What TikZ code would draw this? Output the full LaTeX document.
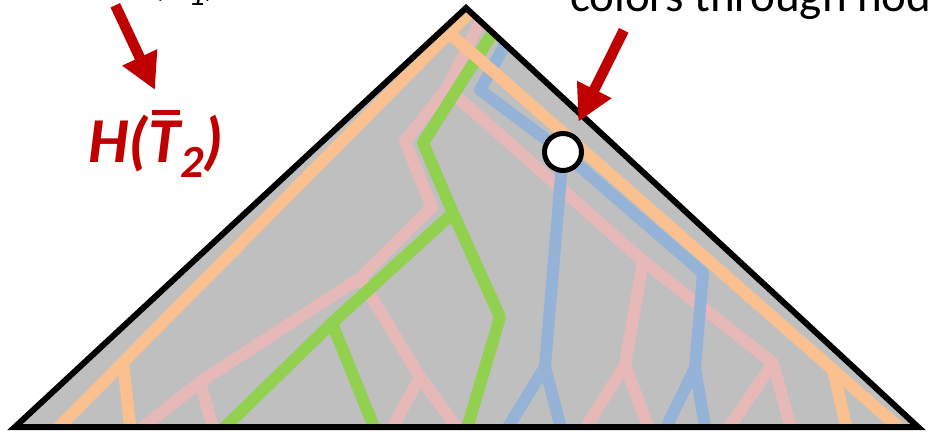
\documentclass[tikz,border=0pt]{standalone}
\usepackage{fontspec}
\setmainfont{Carlito}
\usetikzlibrary{arrows.meta}
\definecolor{triGray}{HTML}{BFBFBF}
\definecolor{tOrange}{HTML}{FAC090}
\definecolor{tPink}{HTML}{E6B9B8}
\definecolor{tGreen}{HTML}{92D050}
\definecolor{tBlue}{HTML}{95B3D7}
\definecolor{tRed}{HTML}{C00000}
\newcommand{\HTlabel}[1]{H(\makebox[0pt][l]{\hspace{0.06em}\raisebox{0.75em}{\rule{0.44em}{0.078em}}}T\raisebox{-0.22em}{\scalebox{0.72}{#1}})}
\begin{document}
\begin{tikzpicture}[x=1pt,y=-1pt,
  treeline/.style={line width=12pt, line cap=round, line join=round},
  orangeline/.style={treeline, draw=tOrange},
  pinkline/.style={treeline, draw=tPink},
  greenline/.style={treeline, draw=tGreen},
  blueline/.style={treeline, draw=tBlue},
  redarrow/.style={draw=tRed, line width=10.5pt, -{Triangle[length=36pt,width=36pt]}},
  lbl/.style={inner sep=0pt, outer sep=0pt, anchor=base west}]
\useasboundingbox (0,0) rectangle (932,433);
\clip (0,0) rectangle (932,433);
\fill[white] (0,0) rectangle (932,433);
% triangle corners
\coordinate (A) at (15,427);
\coordinate (B) at (466,8);
\coordinate (C) at (918,427);
\fill[triGray] (A) -- (B) -- (C) -- cycle;
\begin{scope}
\clip (A) -- (B) -- (C) -- cycle;
% pink tree
\coordinate (p0) at (484,14);
\coordinate (p1) at (447,88);
\coordinate (p2) at (405,141);
\coordinate (p3) at (432,207);
\coordinate (p4) at (360,278);
\coordinate (p5) at (200,382);
\coordinate (p6) at (137,432);
\coordinate (p7) at (214,432);
\coordinate (pq) at (420,377);
\coordinate (pq1) at (390,432);
\coordinate (pq2) at (460,432);
\coordinate (pr) at (643,261);
\coordinate (ps) at (773,363);
\coordinate (pt) at (625,365);
\coordinate (pt1) at (583,432);
\coordinate (pt2) at (650,432);
\coordinate (ps1) at (726,432);
\coordinate (ps2) at (792,432);
\draw[pinkline] (p0) -- (p1) -- (p2) -- (p3) -- (p4) -- (p5) -- (p6);
\draw[pinkline] (p5) -- (p7);
\draw[pinkline] (p4) -- (pq) -- (pq1);
\draw[pinkline] (pq) -- (pq2);
\draw[pinkline] (p1) -- (pr) -- (ps) -- (ps2);
\draw[pinkline] (ps) -- (ps1);
\draw[pinkline] (pr) -- (pt) -- (pt1);
\draw[pinkline] (pt) -- (pt2);
% green tree
\coordinate (g0) at (497,26);
\coordinate (g1) at (423,143);
\coordinate (g2) at (453,213);
\coordinate (g3) at (500,317);
\coordinate (g4) at (466,432);
\coordinate (g5) at (332,323);
\coordinate (g6) at (220,432);
\coordinate (g7) at (376,432);
\draw[greenline] (g0) -- (g1) -- (g2) -- (g3) -- (g4);
\draw[greenline] (g2) -- (g5) -- (g6);
\draw[greenline] (g5) -- (g7);
% blue tree
\coordinate (b0) at (511,34);
\coordinate (b1) at (480,90);
\coordinate (b2) at (563,152);
\coordinate (b3) at (703,273);
\coordinate (b4) at (695,368);
\coordinate (b5) at (545,367);
\draw[blueline] (b0) -- (b1) -- (b2) -- (b3) -- (b4) -- (664,432);
\draw[blueline] (b4) -- (706,432);
\draw[blueline] (b2) -- (b5) -- (505,432);
\draw[blueline] (b5) -- (562,432);
% orange tree
\coordinate (o0) at (474,8);
\coordinate (oj) at (455,38);
\coordinate (oL) at (60,426);
\coordinate (oLb) at (123,363);
\coordinate (oR) at (897,426);
\coordinate (oRb) at (833,370);
\draw[orangeline] (o0) -- (oL);
\draw[orangeline] (oLb) -- (131,434);
\draw[orangeline] (oj) -- (oR);
\draw[orangeline] (oRb) -- (848,434);
\end{scope}
\draw[line width=6pt] (A) -- (B) -- (C) -- cycle;
\node[circle, draw, fill=white, line width=5pt, minimum size=37pt, inner sep=0pt] (nd) at (b2) {};
% labels
\node[lbl, text=tRed, font=\fontsize{64}{64}\selectfont\bfseries\itshape] (h2) at (88,163) {\HTlabel{2}};
\node[lbl, font=\fontsize{45}{45}\selectfont\itshape] (h1) at (125,-4) {\HTlabel{1}};
\node[lbl, font=\fontsize{47}{47}\selectfont] (col) at (570,12) {colors through node};
% arrows
\coordinate (a1s) at (115.3,5.3);
\coordinate (a1e) at (155,90);
\coordinate (a2s) at (623.8,30.3);
\coordinate (a2e) at (578.3,121.7);
\draw[redarrow] (a1s) -- (a1e);
\draw[redarrow] (a2s) -- (a2e);
\end{tikzpicture}
\end{document}
